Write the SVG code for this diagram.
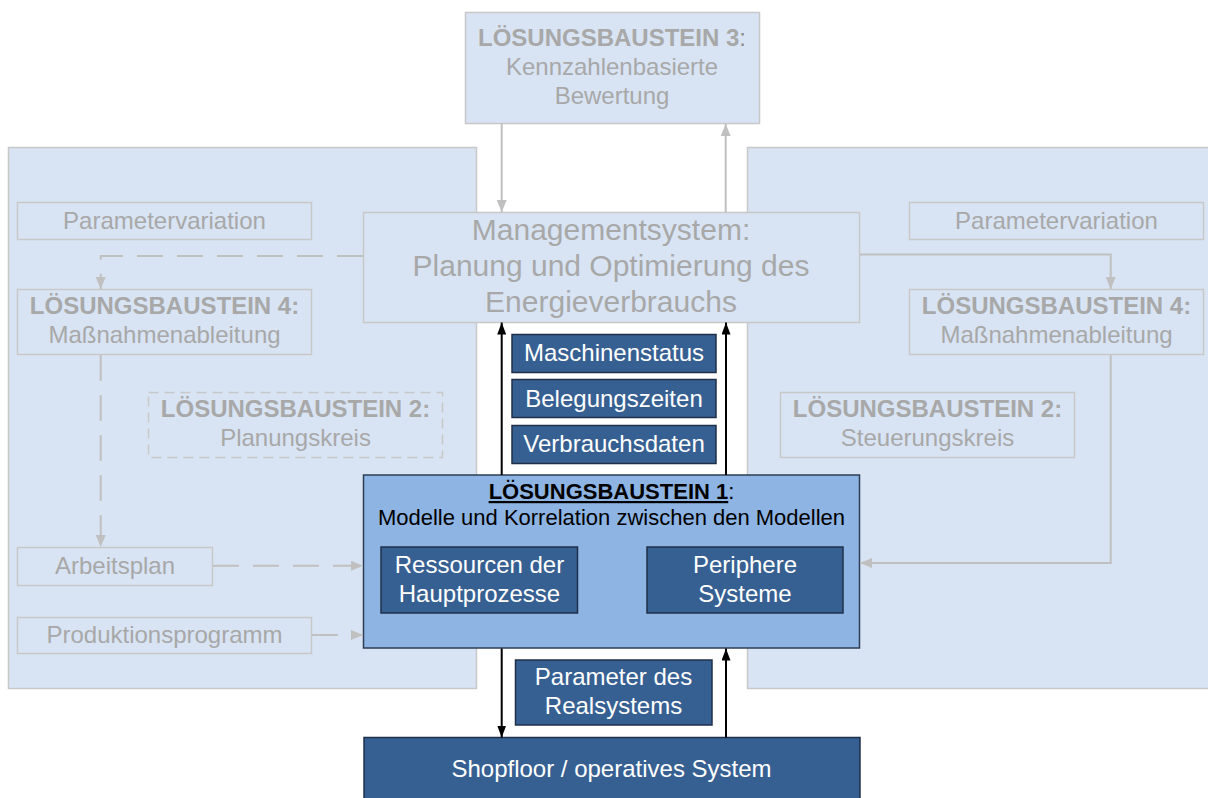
<svg xmlns="http://www.w3.org/2000/svg" width="1208" height="798" viewBox="0 0 1208 798">
  <style>
    text { font-family: "Liberation Sans", Arial, sans-serif; text-anchor: middle; }
    .faded { fill: #d8e4f3; stroke: #c8c8c8; stroke-width: 1.5; }
    .fadedText { fill: #a8a8a8; font-size: 24px; }
    .bold { font-weight: bold; }
    .mgmt { fill: #a8a8a8; font-size: 30px; }
    .dark { fill: #376092; stroke: #1f2f48; stroke-width: 1.5; }
    .darkText { fill: #ffffff; font-size: 24px; }
    .core { fill: #8eb4e3; stroke: #2c3e55; stroke-width: 1.5; }
    .coreText { fill: #000000; font-size: 22px; }
    .grayLine { fill: none; stroke: #c0c0c0; stroke-width: 2; }
    .dashed { stroke-dasharray: 26 14; }
    .blackLine { fill: none; stroke: #000000; stroke-width: 2; }
  </style>
  <defs>
    <marker id="arrowGray" viewBox="0 0 12 10" refX="12" refY="5" markerWidth="12" markerHeight="10" markerUnits="userSpaceOnUse" orient="auto">
      <path d="M0,0 L12,5 L0,10 z" fill="#c0c0c0"/>
    </marker>
    <marker id="arrowBlack" viewBox="0 0 12 9" refX="12" refY="4.5" markerWidth="12" markerHeight="9" markerUnits="userSpaceOnUse" orient="auto">
      <path d="M0,0 L12,4.5 L0,9 z" fill="#000000"/>
    </marker>
  </defs>

  <rect width="1208" height="798" fill="#ffffff"/>

  <!-- background panels -->
  <g id="panel-left">
    <rect class="faded" x="8.5" y="147.5" width="468" height="541"/>
  </g>
  <g id="panel-right">
    <rect class="faded" x="747.5" y="147.5" width="470" height="541"/>
  </g>

  <!-- building block 3 -->
  <g id="lb3">
    <rect class="faded" x="465.5" y="12.5" width="294" height="111"/>
    <text class="fadedText" x="612" y="46"><tspan class="bold">LÖSUNGSBAUSTEIN 3</tspan><tspan fill="#8c8c8c">:</tspan></text>
    <text class="fadedText" x="612" y="75">Kennzahlenbasierte</text>
    <text class="fadedText" x="612" y="104">Bewertung</text>
  </g>

  <!-- management system -->
  <g id="management">
    <rect class="faded" x="363.5" y="212.5" width="496" height="110"/>
    <text class="mgmt" x="611" y="240">Managementsystem:</text>
    <text class="mgmt" x="611" y="276">Planung und Optimierung des</text>
    <text class="mgmt" x="611" y="312">Energieverbrauchs</text>
  </g>

  <!-- left column -->
  <g id="param-left">
    <rect class="faded" x="17.5" y="202.5" width="294" height="37"/>
    <text class="fadedText" x="164.5" y="228.5">Parametervariation</text>
  </g>
  <g id="lb4-left">
    <rect class="faded" x="17.5" y="289.5" width="294" height="65"/>
    <text class="fadedText bold" x="164.5" y="314">LÖSUNGSBAUSTEIN 4:</text>
    <text class="fadedText" x="164.5" y="343">Maßnahmenableitung</text>
  </g>
  <g id="lb2-left">
    <rect class="faded" x="148.5" y="392.5" width="294" height="65" stroke-dasharray="10 6"/>
    <text class="fadedText bold" x="295.5" y="417">LÖSUNGSBAUSTEIN 2:</text>
    <text class="fadedText" x="295.5" y="446">Planungskreis</text>
  </g>
  <g id="arbeitsplan">
    <rect class="faded" x="17.5" y="547.5" width="195" height="38"/>
    <text class="fadedText" x="115" y="573.5">Arbeitsplan</text>
  </g>
  <g id="produktionsprogramm">
    <rect class="faded" x="17.5" y="617.5" width="294" height="36"/>
    <text class="fadedText" x="164.5" y="642.5">Produktionsprogramm</text>
  </g>

  <!-- right column -->
  <g id="param-right">
    <rect class="faded" x="909.5" y="202.5" width="294" height="37"/>
    <text class="fadedText" x="1056.5" y="228.5">Parametervariation</text>
  </g>
  <g id="lb4-right">
    <rect class="faded" x="909.5" y="289.5" width="294" height="65"/>
    <text class="fadedText bold" x="1056.5" y="314">LÖSUNGSBAUSTEIN 4:</text>
    <text class="fadedText" x="1056.5" y="343">Maßnahmenableitung</text>
  </g>
  <g id="lb2-right">
    <rect class="faded" x="780.5" y="392.5" width="294" height="65"/>
    <text class="fadedText bold" x="927.5" y="417">LÖSUNGSBAUSTEIN 2:</text>
    <text class="fadedText" x="927.5" y="446">Steuerungskreis</text>
  </g>

  <!-- data flowing upwards -->
  <g id="maschinenstatus">
    <rect class="dark" x="512" y="334.5" width="204" height="38"/>
    <text class="darkText" x="614" y="361">Maschinenstatus</text>
  </g>
  <g id="belegungszeiten">
    <rect class="dark" x="512" y="379.5" width="204" height="38"/>
    <text class="darkText" x="614" y="406.5">Belegungszeiten</text>
  </g>
  <g id="verbrauchsdaten">
    <rect class="dark" x="512" y="425.5" width="204" height="38"/>
    <text class="darkText" x="614" y="452">Verbrauchsdaten</text>
  </g>

  <!-- building block 1 -->
  <g id="lb1">
    <rect class="core" x="363.5" y="475" width="496" height="173"/>
    <text class="coreText" x="611.5" y="499"><tspan class="bold" text-decoration="underline">LÖSUNGSBAUSTEIN 1</tspan>:</text>
    <text class="coreText" x="611.5" y="525">Modelle und Korrelation zwischen den Modellen</text>
  </g>
  <g id="ressourcen">
    <rect class="dark" x="381" y="547" width="196.5" height="66"/>
    <text class="darkText" x="479.5" y="572.5">Ressourcen der</text>
    <text class="darkText" x="479.5" y="601.5">Hauptprozesse</text>
  </g>
  <g id="periphere">
    <rect class="dark" x="647" y="547" width="196" height="66"/>
    <text class="darkText" x="745" y="572.5">Periphere</text>
    <text class="darkText" x="745" y="601.5">Systeme</text>
  </g>

  <!-- data flowing downwards -->
  <g id="parameter">
    <rect class="dark" x="515.5" y="660" width="196.5" height="65"/>
    <text class="darkText" x="613.5" y="685">Parameter des</text>
    <text class="darkText" x="613.5" y="713.5">Realsystems</text>
  </g>

  <!-- shop floor -->
  <g id="shopfloor">
    <rect class="dark" x="364" y="737.5" width="496" height="70"/>
    <text class="darkText" x="611.5" y="776.5">Shopfloor / operatives System</text>
  </g>

  <!-- connectors -->
  <g id="connectors">
    <path class="grayLine" d="M501.7,123.5 V212" marker-end="url(#arrowGray)"/>
    <path class="grayLine" d="M725.7,212 V124" marker-end="url(#arrowGray)"/>
    <path class="grayLine dashed" d="M363,256 H100.7 V289" marker-end="url(#arrowGray)"/>
    <path class="grayLine" d="M860,254.5 H1110.7 V289" marker-end="url(#arrowGray)"/>
    <path class="grayLine dashed" d="M100.7,355 V547" marker-end="url(#arrowGray)"/>
    <path class="grayLine" d="M1110.7,355 V563 H860" marker-end="url(#arrowGray)"/>
    <path class="grayLine dashed" d="M213,565.7 H363" marker-end="url(#arrowGray)"/>
    <path class="grayLine dashed" d="M312,635 H363" marker-end="url(#arrowGray)"/>
    <path class="blackLine" d="M501.7,475 V322.5" marker-end="url(#arrowBlack)"/>
    <path class="blackLine" d="M726,475 V322.5" marker-end="url(#arrowBlack)"/>
    <path class="blackLine" d="M501.7,648.5 V737.5" marker-end="url(#arrowBlack)"/>
    <path class="blackLine" d="M726,737.5 V648.5" marker-end="url(#arrowBlack)"/>
  </g>
</svg>
